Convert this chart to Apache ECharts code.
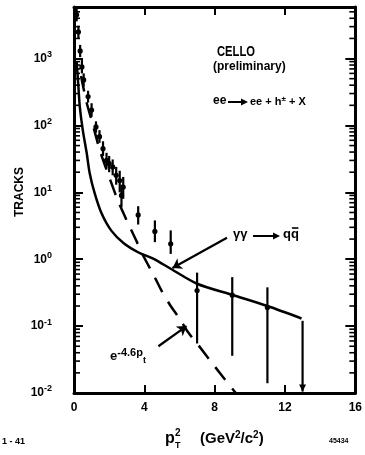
<!DOCTYPE html>
<html><head><meta charset="utf-8">
<script src="https://cdn.jsdelivr.net/npm/echarts@6/dist/echarts.min.js"></script>
<style>html,body{margin:0;padding:0;background:#fff}#c{width:365px;height:455px}</style>
</head><body><div id="c"></div>
<script>
// ---- data ----
const xTickValues = [0, 4, 8, 12, 16];
const yDecades = [-2, -1, 0, 1, 2, 3];
const yMaxValue = 5900;
// measured tracks with error bars
const ptsX  = [0.15, 0.25, 0.35, 0.45, 0.55, 0.8, 1.0, 1.25, 1.45, 1.65, 1.85, 2.0, 2.2, 2.4, 2.6, 2.8, 2.7, 3.65, 4.6, 5.5, 7.0, 9.0, 11.0];
const ptsY  = [4500, 2500, 1300, 750, 480, 270, 170, 95, 68, 45, 30, 27, 24, 18, 15, 12, 9, 4.6, 2.6, 1.7, 0.34, 0.29, 0.19];
const ptsLo = [3600, 2000, 1050, 600, 380, 220, 135, 78, 55, 35, 23, 20, 18, 13, 10, 8, 6, 3.3, 1.8, 1.2, 0.055, 0.036, 0.014];
const ptsHi = [5600, 3100, 1600, 950, 600, 330, 215, 115, 85, 58, 39, 35, 31, 24, 21, 17, 13, 6.2, 3.8, 2.7, 0.63, 0.54, 0.38];
// upper limit point
const limX = [13.0];
const limHi = [0.12];
const limLo = [0.0105];
// gamma gamma -> q qbar curve
const qqX = [0.15, 0.25, 0.33, 0.5, 0.72, 0.89, 1.17, 1.56, 2.11, 2.83, 3.67, 4.5, 5.5, 7.0, 9.06, 11.0, 12.94];
const qqY = [900, 380, 190, 85, 39, 19.5, 9.8, 4.9, 2.7, 1.73, 1.26, 1.02, 0.72, 0.43, 0.29, 0.2, 0.13];
// exponential (dashed) curve
const expX = [0.4, 0.7, 1.0, 1.5, 2.0, 2.5, 3.0, 3.5, 4.0, 4.5, 5.0, 5.5, 6.0, 6.5, 7.0, 8.0, 9.2];
const expY = [550, 230, 120, 40, 17, 7.5, 3.8, 2.0, 1.05, 0.6, 0.33, 0.2, 0.13, 0.08, 0.055, 0.025, 0.01];

const L = Math.log10;
const FONT = 'Liberation Sans';

const ptsData = ptsX.map((x, i) => [x, L(ptsY[i]), L(ptsLo[i]), L(ptsHi[i])]);
const limData = limX.map((x, i) => [x, L(limLo[i]), L(limHi[i])]);
const qqData = qqX.map((x, i) => [x, L(qqY[i])]);
const expData = expX.map((x, i) => [x, L(expY[i])]);
const minorData = [];
yDecades.forEach(d => { for (let k = 2; k <= 9; k++) { const v = d + L(k); if (v < L(yMaxValue)) minorData.push([0, v]); } });

// text measuring for the q-bar overline
const mctx = document.createElement('canvas').getContext('2d');
mctx.font = 'bold 13px ' + FONT;
const wQ = mctx.measureText('q').width;
const wQQ = mctx.measureText('qq').width;

// arrow glyph built from a line and a head
function textArrow(x1, x2, y) {
  return [
    { type: 'line', shape: { x1: x1, y1: y, x2: x2 - 5, y2: y }, style: { stroke: '#000', lineWidth: 2 } },
    { type: 'polygon', shape: { points: [[x2 - 7, y - 3.5], [x2, y], [x2 - 7, y + 3.5]] }, style: { fill: '#000' } }
  ];
}

const axisCommon = {
  axisLine: { show: true, onZero: false, lineStyle: { color: '#000', width: 3 } },
  axisTick: { show: true, inside: true, length: 8, lineStyle: { color: '#000', width: 2 } },
  splitLine: { show: false },
  minorTick: { show: false }
};

const option = {
  animation: false,
  backgroundColor: '#fff',
  grid: { left: 74, right: 3, top: 7, bottom: 62, containLabel: false },
  xAxis: [
    Object.assign({}, axisCommon, { type: 'value', min: 0, max: 16, interval: 4, position: 'bottom',
      axisLabel: { color: '#000', fontFamily: FONT, fontWeight: 'bold', fontSize: 12, margin: 9,
        formatter: v => xTickValues.includes(v) ? String(v) : '' } }),
    Object.assign({}, axisCommon, { type: 'value', min: 0, max: 16, interval: 4, position: 'top',
      axisLabel: { show: false } })
  ],
  yAxis: [
    Object.assign({}, axisCommon, { type: 'value', min: -2, max: L(yMaxValue), interval: 1, position: 'left',
      axisTick: { show: true, inside: true, length: 9, lineStyle: { color: '#000', width: 2 } },
      axisLabel: { color: '#000', fontFamily: FONT, fontWeight: 'bold', fontSize: 12, margin: 22,
        formatter: v => yDecades.includes(v) ? '10{s|' + v + '}' : '',
        rich: { s: { fontSize: 9, fontWeight: 'bold', fontFamily: FONT, verticalAlign: 'top', padding: [0, 0, 8, 0] } } } }),
    Object.assign({}, axisCommon, { type: 'value', min: -2, max: L(yMaxValue), interval: 1, position: 'right',
      axisTick: { show: true, inside: true, length: 10, lineStyle: { color: '#000', width: 2 } },
      axisLabel: { show: false } })
  ],
  series: [
    { type: 'custom', name: 'minor', data: minorData, silent: true, clip: false,
      renderItem: (params, api) => {
        const pl = api.coord([0, api.value(1)]);
        const pr = api.coord([16, api.value(1)]);
        return { type: 'group', children: [
          { type: 'line', shape: { x1: pl[0], y1: pl[1], x2: pl[0] + 6, y2: pl[1] }, style: { stroke: '#000', lineWidth: 1.6 } },
          { type: 'line', shape: { x1: pr[0], y1: pr[1], x2: pr[0] - 6, y2: pr[1] }, style: { stroke: '#000', lineWidth: 1.6 } }
        ] };
      } },
    { type: 'line', name: 'qq', data: qqData, smooth: 0.3, showSymbol: false, symbol: 'none',
      lineStyle: { color: '#000', width: 2.5 } },
    { type: 'line', name: 'exp', data: expData, smooth: 0.3, showSymbol: false, symbol: 'none',
      lineStyle: { color: '#000', width: 2.5, type: [16, 11] } },
    { type: 'custom', name: 'points', data: ptsData, clip: true,
      renderItem: (params, api) => {
        const x = api.value(0);
        const p = api.coord([x, api.value(1)]);
        const lo = api.coord([x, api.value(2)]);
        const hi = api.coord([x, api.value(3)]);
        return { type: 'group', children: [
          { type: 'line', shape: { x1: lo[0], y1: lo[1], x2: hi[0], y2: hi[1] }, style: { stroke: '#000', lineWidth: 2.2 } },
          { type: 'circle', shape: { cx: p[0], cy: p[1], r: 2.6 }, style: { fill: '#000' } }
        ] };
      } },
    { type: 'custom', name: 'limit', data: limData, clip: false,
      renderItem: (params, api) => {
        const x = api.value(0);
        const lo = api.coord([x, api.value(1)]);
        const hi = api.coord([x, api.value(2)]);
        return { type: 'group', children: [
          { type: 'line', shape: { x1: lo[0], y1: lo[1], x2: hi[0], y2: hi[1] }, style: { stroke: '#000', lineWidth: 2.2 } },
          { type: 'polygon', shape: { points: [[lo[0] - 3.5, lo[1] - 7], [lo[0] + 3.5, lo[1] - 7], [lo[0], lo[1]]] }, style: { fill: '#000' } }
        ] };
      } },
    { type: 'line', name: 'arrows', data: [], symbol: 'none',
      markLine: { silent: true, symbol: ['none', 'arrow'], symbolSize: 9, label: { show: false },
        lineStyle: { color: '#000', width: 2.2, type: 'solid' },
        data: [
          [{ coord: [8.7, L(2.1)], lineStyle: { curveness: 0.25 } }, { coord: [5.6, L(0.74)] }],
          [{ coord: [4.8, L(0.05)], lineStyle: { curveness: 0.1 } }, { coord: [6.4, L(0.1)] }]
        ] } }
  ],
  graphic: [
    { type: 'text', x: 217, y: 45, scaleX: 0.8, style: { text: 'CELLO', font: 'bold 14px ' + FONT, fill: '#000' } },
    { type: 'text', left: 213, top: 61, style: { text: '(preliminary)', font: 'bold 12px ' + FONT, fill: '#000' } },
    { type: 'text', left: 213, top: 95, style: { text: 'ee', font: 'bold 12px ' + FONT, fill: '#000' } },
    ...textArrow(228, 248, 102),
    { type: 'text', left: 250, top: 95, style: { text: 'ee + h{s|±} + X', font: 'bold 11px ' + FONT, fill: '#000',
        rich: { s: { fontSize: 8, fontWeight: 'bold', fontFamily: FONT, verticalAlign: 'top', padding: [0, 0, 6, 0] } } } },
    { type: 'text', left: 233, top: 228, style: { text: 'γγ', font: 'bold 13px ' + FONT, fill: '#000' } },
    ...textArrow(253, 280, 236),
    { type: 'text', left: 283, top: 228, style: { text: 'qq', font: 'bold 13px ' + FONT, fill: '#000' } },
    { type: 'line', shape: { x1: 283 + wQQ - wQ + 1, y1: 228, x2: 283 + wQQ - 0.5, y2: 228 }, style: { stroke: '#000', lineWidth: 1.6 } },
    { type: 'text', left: 110, top: 347, style: { text: 'e{s|-4.6p}{t|t}', font: 'bold 13px ' + FONT, fill: '#000',
        rich: { s: { fontSize: 11, fontWeight: 'bold', fontFamily: FONT, verticalAlign: 'top', padding: [0, 0, 7, 0] },
                t: { fontSize: 9, fontWeight: 'bold', fontFamily: FONT, verticalAlign: 'bottom', padding: [5, 0, 0, 0] } } } },
    { type: 'text', x: 20, y: 192, rotation: Math.PI / 2, style: { text: 'TRACKS', font: 'bold 12px ' + FONT, fill: '#000', align: 'center', verticalAlign: 'middle' } },
    { type: 'text', left: 165, top: 431, style: { text: 'p', font: 'bold 16px ' + FONT, fill: '#000' } },
    { type: 'text', left: 175, top: 428, style: { text: '2', font: 'bold 10px ' + FONT, fill: '#000' } },
    { type: 'text', left: 175, top: 441, style: { text: 'T', font: 'bold 9px ' + FONT, fill: '#000' } },
    { type: 'text', left: 200, top: 430, style: { text: '(GeV{s|2}/c{s|2})', font: 'bold 15px ' + FONT, fill: '#000',
        rich: { s: { fontSize: 10, fontWeight: 'bold', fontFamily: FONT, verticalAlign: 'top', padding: [0, 0, 7, 0] } } } },
    { type: 'text', left: 2, top: 437, style: { text: '1 - 41', font: 'bold 9px ' + FONT, fill: '#000' } },
    { type: 'text', left: 329, top: 438, style: { text: '45434', font: 'bold 7px ' + FONT, fill: '#000' } }
  ]
};
const chart = echarts.init(document.getElementById('c'), null, { renderer: 'canvas' });
chart.setOption(option);
</script></body></html>
